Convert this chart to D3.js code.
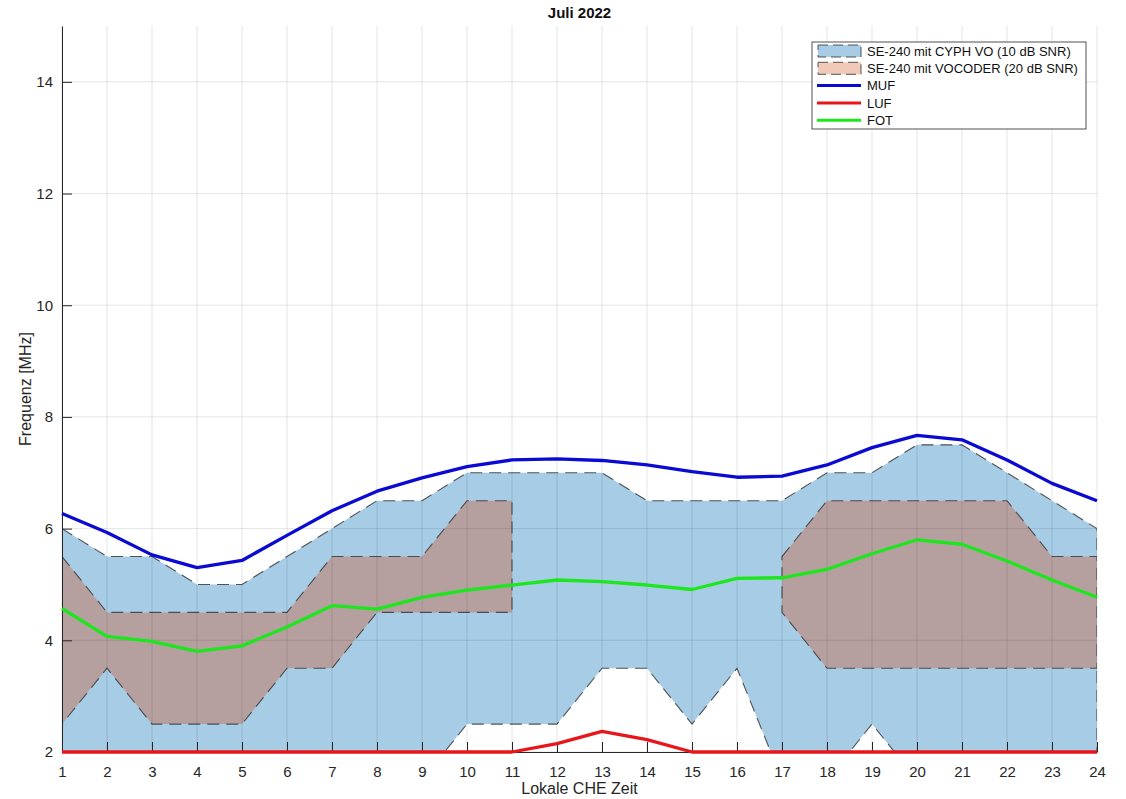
<!DOCTYPE html>
<html>
<head>
<meta charset="utf-8">
<script src="https://cdn.jsdelivr.net/npm/d3@7"></script>
<style>
  body { margin: 0; background: #fff; }
  text { font-family: "Liberation Sans", Arial, Helvetica, sans-serif; }
</style>
</head>
<body>
<svg id="chart" width="1126" height="799"></svg>
<script>
// hours 1..24
var hours = d3.range(1, 25);

// SE-240 mit CYPH VO (10 dB SNR) band
var cyphUpper = [6, 5.5, 5.5, 5, 5, 5.5, 6, 6.5, 6.5, 7, 7, 7, 7, 6.5, 6.5, 6.5, 6.5, 7, 7, 7.5, 7.5, 7, 6.5, 6];
var cyphLower = [1.5, 1.5, 1.5, 1.5, 1.5, 1.5, 1.5, 1.5, 1.5, 2.5, 2.5, 2.5, 3.5, 3.5, 2.5, 3.5, 1.5, 1.5, 2.5, 1.5, 1.5, 1.5, 1.5, 1.5];

// SE-240 mit VOCODER (20 dB SNR) band, two pieces (null = no coverage)
var vocUpper = [5.5, 4.5, 4.5, 4.5, 4.5, 4.5, 5.5, 5.5, 5.5, 6.5, 6.5, null, null, null, null, null, 5.5, 6.5, 6.5, 6.5, 6.5, 6.5, 5.5, 5.5];
var vocLower = [2.5, 3.5, 2.5, 2.5, 2.5, 3.5, 3.5, 4.5, 4.5, 4.5, 4.5, null, null, null, null, null, 4.5, 3.5, 3.5, 3.5, 3.5, 3.5, 3.5, 3.5];

var muf = [6.27, 5.93, 5.53, 5.30, 5.43, 5.88, 6.32, 6.67, 6.91, 7.11, 7.23, 7.25, 7.22, 7.14, 7.02, 6.92, 6.94, 7.14, 7.45, 7.67, 7.59, 7.23, 6.81, 6.50];
var luf = [2, 2, 2, 2, 2, 2, 2, 2, 2, 2, 2, 2.15, 2.37, 2.22, 2, 2, 2, 2, 2, 2, 2, 2, 2, 2];
var fot = [4.57, 4.07, 3.98, 3.80, 3.90, 4.24, 4.62, 4.56, 4.77, 4.90, 4.99, 5.08, 5.05, 4.99, 4.91, 5.11, 5.12, 5.27, 5.55, 5.80, 5.72, 5.42, 5.08, 4.77];

var yTicks = [2, 4, 6, 8, 10, 12, 14];
var legendLabels = ["SE-240 mit CYPH VO (10 dB SNR)", "SE-240 mit VOCODER (20 dB SNR)", "MUF", "LUF", "FOT"];

function drawChart() {
  var colBlue = "#a6cce6", colBrown = "#b5a09f", colSalmon = "#f1c9b8";
  var colMuf = "#0a0ad2", colLuf = "#e8161b", colFot = "#1ee61e";

  var svg = d3.select("#chart");
  var pLeft = 62, pRight = 1097, pTop = 26, pBottom = 752;

  var x = d3.scaleLinear().domain([1, 24]).range([pLeft, pRight]);
  var y = d3.scaleLinear().domain([2, 15]).range([pBottom, pTop]);

  svg.append("defs").append("clipPath").attr("id", "clip")
    .append("rect").attr("x", pLeft).attr("y", pTop).attr("width", pRight - pLeft).attr("height", pBottom - pTop);

  var plot = svg.append("g").attr("clip-path", "url(#clip)");

  function band(up, lo, idx) {
    var pts = idx.map(function (i) { return [x(hours[i]), y(up[i])]; });
    idx.slice().reverse().forEach(function (i) { pts.push([x(hours[i]), y(lo[i])]); });
    return "M" + pts.join("L") + "Z";
  }

  plot.append("path")
    .attr("d", band(cyphUpper, cyphLower, d3.range(24)))
    .attr("fill", colBlue)
    .attr("stroke", "#3a3a3a").attr("stroke-opacity", 0.85)
    .attr("stroke-width", 1.1).attr("stroke-dasharray", "12,7");

  // vocoder pieces
  var pieces = [], cur = [];
  vocUpper.forEach(function (v, i) {
    if (v === null) { if (cur.length) pieces.push(cur); cur = []; }
    else cur.push(i);
  });
  if (cur.length) pieces.push(cur);

  pieces.forEach(function (idx) {
    plot.append("path")
      .attr("d", band(vocUpper, vocLower, idx))
      .attr("fill", colBrown)
      .attr("stroke", "#3a3a3a").attr("stroke-opacity", 0.85)
      .attr("stroke-width", 1.1).attr("stroke-dasharray", "12,7");
  });

  // grid
  var grid = svg.append("g");
  grid.selectAll(".gx").data(hours).enter().append("line")
    .attr("x1", function (d) { return x(d); }).attr("x2", function (d) { return x(d); })
    .attr("y1", pTop).attr("y2", pBottom)
    .attr("stroke", "#000").attr("stroke-opacity", 0.1).attr("stroke-width", 1);
  grid.selectAll(".gy").data(yTicks).enter().append("line")
    .attr("x1", pLeft).attr("x2", pRight)
    .attr("y1", function (d) { return y(d); }).attr("y2", function (d) { return y(d); })
    .attr("stroke", "#000").attr("stroke-opacity", 0.1).attr("stroke-width", 1);

  // axes
  var xAxis = d3.axisBottom(x).tickValues(hours).tickSizeInner(-10).tickSizeOuter(0).tickPadding(14);
  var yAxis = d3.axisLeft(y).tickValues(yTicks).tickSizeInner(-10).tickSizeOuter(0).tickPadding(16);

  var gx = svg.append("g").attr("transform", "translate(0," + pBottom + ")").call(xAxis);
  var gy = svg.append("g").attr("transform", "translate(" + pLeft + ",0)").call(yAxis);
  [gx, gy].forEach(function (g) {
    g.select(".domain").attr("stroke", "#262626").attr("stroke-width", 1);
    g.selectAll(".tick line").attr("stroke", "#262626");
    g.selectAll(".tick text").attr("fill", "#262626").style("font-size", "15px")
      .style("font-family", "'Liberation Sans', Arial, sans-serif");
  });
  gy.selectAll(".tick text").attr("dx", "7px");

  // lines
  var line = d3.line().x(function (d, i) { return x(hours[i]); }).y(function (d) { return y(d); });
  [[muf, colMuf], [luf, colLuf], [fot, colFot]].forEach(function (s) {
    svg.append("path").datum(s[0]).attr("d", line)
      .attr("fill", "none").attr("stroke", s[1]).attr("stroke-width", 3.3)
      .attr("stroke-linejoin", "round");
  });

  // title and labels
  svg.append("text").attr("x", (pLeft + pRight) / 2).attr("y", 18).attr("text-anchor", "middle")
    .style("font-size", "15px").style("font-weight", "bold").attr("fill", "#111").text("Juli 2022");
  svg.append("text").attr("x", (pLeft + pRight) / 2).attr("y", 794).attr("text-anchor", "middle")
    .style("font-size", "16px").attr("fill", "#262626").text("Lokale CHE Zeit");
  svg.append("text").attr("transform", "translate(31," + ((pTop + pBottom) / 2) + ") rotate(-90)")
    .attr("text-anchor", "middle").style("font-size", "16px").attr("fill", "#262626").text("Frequenz [MHz]");

  // legend
  var lg = svg.append("g").attr("transform", "translate(812,42)");
  lg.append("rect").attr("width", 274).attr("height", 87).attr("fill", "#fff")
    .attr("stroke", "#262626").attr("stroke-width", 0.8);
  var legendStyle = [
    { type: "patch", color: colBlue },
    { type: "patch", color: colSalmon },
    { type: "line", color: colMuf },
    { type: "line", color: colLuf },
    { type: "line", color: colFot }
  ];
  legendLabels.forEach(function (lab, i) {
    var cy = 9 + i * 17.3;
    var st = legendStyle[i];
    if (st.type === "patch") {
      lg.append("rect").attr("x", 6).attr("y", cy - 6).attr("width", 43).attr("height", 12)
        .attr("fill", st.color).attr("stroke", "#3a3a3a").attr("stroke-opacity", 0.85)
        .attr("stroke-dasharray", "10,5");
    } else {
      lg.append("line").attr("x1", 5).attr("x2", 49).attr("y1", cy).attr("y2", cy)
        .attr("stroke", st.color).attr("stroke-width", 3);
    }
    lg.append("text").attr("x", 55).attr("y", cy + 4.7).style("font-size", "13px")
      .attr("fill", "#111").text(lab);
  });
}

drawChart();
</script>
</body>
</html>
